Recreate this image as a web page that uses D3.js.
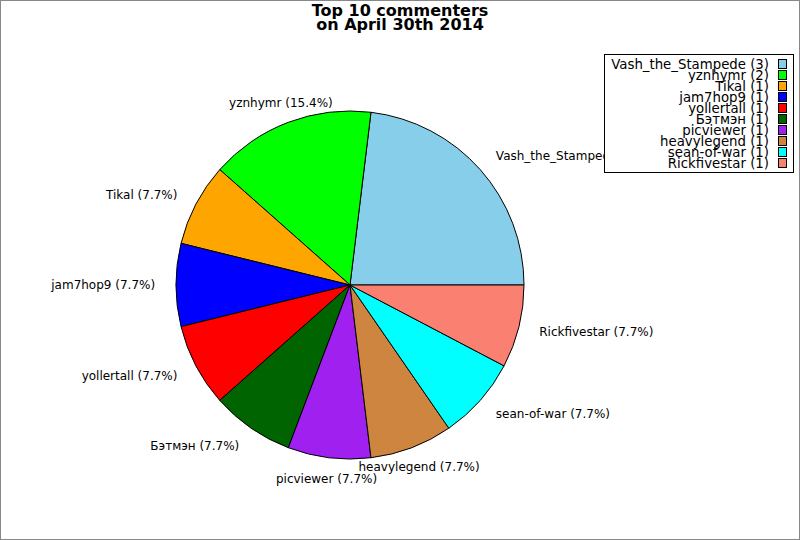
<!DOCTYPE html>
<html>
<head>
<meta charset="utf-8">
<script src="https://cdn.jsdelivr.net/npm/d3@7"></script>
<style>
  body { margin: 0; background: #fff; }
  text { font-family: "DejaVu Sans", sans-serif; }
</style>
</head>
<body>
<div id="chart"></div>
<script>
// data
const commenters = ["Vash_the_Stampede", "yznhymr", "Tikal", "jam7hop9", "yollertall",
                    "Бэтмэн", "picviewer", "heavylegend", "sean-of-war", "Rickfivestar"];
const counts = [3, 2, 1, 1, 1, 1, 1, 1, 1, 1];
const colors = ["#87ceeb", "#00ff00", "#ffa500", "#0000ff", "#ff0000",
                "#006400", "#a020f0", "#cd853f", "#00ffff", "#fa8072"];

const width = 800, height = 540;
const cx = 350, cy = 285, radius = 174;
const total = d3.sum(counts);

const svg = d3.select("#chart").append("svg")
    .attr("width", width)
    .attr("height", height);

svg.append("rect")
    .attr("x", 0.5).attr("y", 0.5)
    .attr("width", width - 1).attr("height", height - 1)
    .attr("fill", "#fff")
    .attr("stroke", "#888");

const data = commenters.map((name, i) => ({ name, count: counts[i], color: colors[i] }));

// counter-clockwise from 3 o'clock
const pie = d3.pie()
    .sort(null)
    .value(d => d.count)
    .startAngle(Math.PI / 2)
    .endAngle(Math.PI / 2 - 2 * Math.PI);

const arc = d3.arc().innerRadius(0).outerRadius(radius);
const arcs = pie(data);

const g = svg.append("g").attr("transform", `translate(${cx},${cy})`);

g.selectAll("path")
    .data(arcs)
    .enter()
    .append("path")
    .attr("d", arc)
    .attr("fill", d => d.data.color)
    .attr("stroke", "#000")
    .attr("stroke-width", 1);

// labels outside
const labelR = radius * 1.12;
g.selectAll(".label")
    .data(arcs)
    .enter()
    .append("text")
    .attr("class", "label")
    .attr("x", d => labelR * Math.sin((d.startAngle + d.endAngle) / 2))
    .attr("y", d => -labelR * Math.cos((d.startAngle + d.endAngle) / 2))
    .attr("dy", "0.35em")
    .attr("text-anchor", d => {
        let s = Math.sin((d.startAngle + d.endAngle) / 2);
        if (Math.abs(s) < 0.45) return "middle";
        return s > 0 ? "start" : "end";
    })
    .style("font-size", "12px")
    .attr("fill", "#000")
    .text(d => `${d.data.name} (${(d.data.count / total * 100).toFixed(1)}%)`);

// title
const title = svg.append("text")
    .attr("x", width / 2)
    .attr("text-anchor", "middle")
    .style("font-size", "16px")
    .style("font-weight", "bold");
title.append("tspan").attr("x", width / 2).attr("y", 16).text("Top 10 commenters");
title.append("tspan").attr("x", width / 2).attr("y", 30).text("on April 30th 2014");

// legend
const legend = svg.append("g");
legend.append("rect")
    .attr("x", 604.5).attr("y", 54.5)
    .attr("width", 189).attr("height", 118)
    .attr("fill", "#fff")
    .attr("stroke", "#000");

const rows = legend.selectAll(".row")
    .data(data)
    .enter()
    .append("g")
    .attr("transform", (d, i) => `translate(0,${64 + i * 11})`);

rows.append("text")
    .attr("x", 769)
    .attr("dy", "0.35em")
    .attr("text-anchor", "end")
    .style("font-size", "13.3px")
    .text(d => `${d.name} (${d.count})`);

rows.append("rect")
    .attr("x", 778.5).attr("y", -4.5)
    .attr("width", 8).attr("height", 9)
    .attr("fill", d => d.color)
    .attr("stroke", "#000");
</script>
</body>
</html>
